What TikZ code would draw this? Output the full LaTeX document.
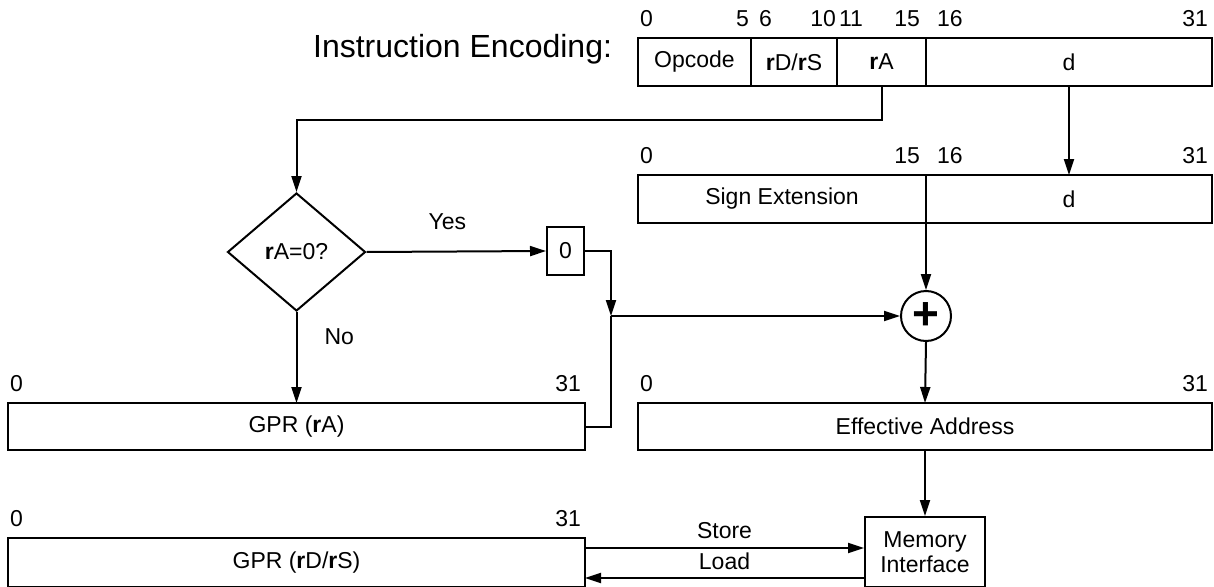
\documentclass[tikz,border=0pt]{standalone}
\usepackage{fontspec}
\setmainfont{Liberation Sans}
\usetikzlibrary{arrows.meta,positioning,shapes.geometric}

\tikzset{
  field/.style={draw, outer sep=0pt, inner sep=0pt, minimum height=48pt},
  bitl/.style={inner sep=0pt, anchor=south west, yshift=10pt},
  bitr/.style={inner sep=0pt, anchor=south east, yshift=10pt},
  arr/.style={-{Triangle[length=16pt,width=10pt]}},
}
\newcommand{\rr}{\textbf{r}}

\begin{document}
\begin{tikzpicture}[x=1pt,y=-1pt,line width=2pt,
    every node/.style={font=\fontsize{23}{25}\selectfont}]
  \useasboundingbox (0,0) rectangle (1214,586);

  % instruction word
  \node[field, anchor=north west, minimum width=113pt] (opcode) at (638,38) {Opcode};
  \node[field, right=0pt of opcode, minimum width=86pt] (rdrs) {\rr D/\rr S};
  \node[field, right=0pt of rdrs, minimum width=89pt] (ra) {\rr A};
  \node[field, right=0pt of ra, minimum width=286pt] (disp) {d};
  \node[anchor=base east, inner sep=0pt, font=\fontsize{32}{36}\selectfont] (title)
    at ([xshift=-25pt,yshift=5pt]opcode.west) {Instruction Encoding:};

  \node[bitl, xshift=1pt] (i0) at (opcode.north west) {0};
  \node[bitr, xshift=-1pt] (i5) at (opcode.north east) {5};
  \node[bitl, xshift=7pt] (i6) at (rdrs.north west) {6};
  \node[bitr, xshift=0pt] (i10) at (rdrs.north east) {10};
  \node[bitl, xshift=1pt] (i11) at (ra.north west) {11};
  \node[bitr, xshift=-5pt] (i15) at (ra.north east) {15};
  \node[bitl, xshift=10pt] (i16) at (disp.north west) {16};
  \node[bitr, xshift=-3pt] (i31) at (disp.north east) {31};

  % sign extended displacement
  \node[field, anchor=north west, minimum width=288pt] (sext) at (638,175) {Sign Extension};
  \node[field, right=0pt of sext, minimum width=286pt] (dext) {d};

  \node[bitl, xshift=1pt] (s0) at (sext.north west) {0};
  \node[bitr, xshift=-5pt] (s15) at (sext.north east) {15};
  \node[bitl, xshift=10pt] (s16) at (dext.north west) {16};
  \node[bitr, xshift=-3pt] (s31) at (dext.north east) {31};

  % rA = 0 test
  \node[draw, diamond, minimum width=138pt, minimum height=118pt, inner sep=0pt] (iszero)
    at (296.5,252) {\rr A=0?};
  \node[draw, minimum width=37pt, minimum height=48pt, inner sep=0pt] (zero) at (565.5,251) {0};
  \node[draw, circle, minimum size=50pt, inner sep=0pt,
    font=\fontsize{46}{46}\selectfont\bfseries] (sum) at (926,316) {+};
  \coordinate (join) at (611,316);

  % registers
  \node[field, anchor=north west, minimum width=577pt, minimum height=47pt] (gpra) at (8,403) {GPR (\rr A)};
  \node[bitl, xshift=1pt] (g0) at (gpra.north west) {0};
  \node[bitr, xshift=-3pt] (g31) at (gpra.north east) {31};

  \node[field, anchor=north west, minimum width=574pt, minimum height=47pt] (ea) at (638,403) {Effective Address};
  \node[bitl, xshift=1pt] (e0) at (ea.north west) {0};
  \node[bitr, xshift=-3pt] (e31) at (ea.north east) {31};

  \node[field, anchor=north west, minimum width=577pt, minimum height=49pt] (gprd) at (8,538) {GPR (\rr D/\rr S)};
  \node[bitl, xshift=1pt] (d0) at (gprd.north west) {0};
  \node[bitr, xshift=-3pt] (d31) at (gprd.north east) {31};

  \node[draw, align=center, minimum width=120pt, minimum height=70pt, inner sep=0pt] (mem)
    at (925,552) {Memory\\Interface};

  % data paths
  \draw[arr] (ra.south) -- ++(0,34) -| (iszero.north);
  \draw[arr] (disp.south) -- (dext.north);
  \draw[arr] (iszero.east) -- node[above=21pt, inner sep=0pt, pos=0.45] (yes) {Yes} (zero.west);
  \draw[arr] (iszero.south) -- node[right=27pt, inner sep=0pt, pos=0.27] (no) {No} (gpra.north);
  \draw[arr] (zero.east) -| (join);
  \draw (gpra.east) -| (join);
  \draw[arr] (join) -- (sum.west);
  \draw[arr] (sext.south east) -- (sum.north);
  \draw[arr] (sum.south) -- (ea.north);
  \draw[arr] (ea.south) -- (mem.north);

  \coordinate (st) at ([yshift=-10pt]gprd.north east);
  \coordinate (ld) at ([yshift=-40pt]gprd.north east);
  \draw[arr] (st) -- node[above=8pt, inner sep=0pt] (store) {Store} (st -| mem.west);
  \draw[arr] (ld -| mem.west) -- node[above=7pt, inner sep=0pt] (load) {Load} (ld);
\end{tikzpicture}
\end{document}
